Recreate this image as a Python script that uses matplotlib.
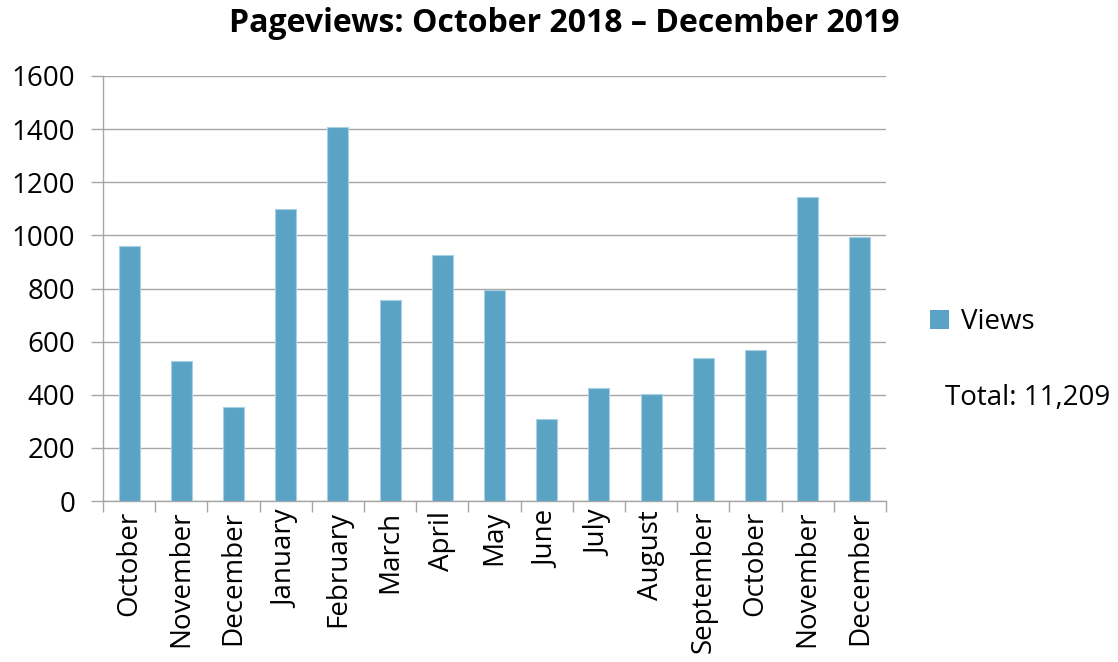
import matplotlib
matplotlib.use("Agg")
import matplotlib.pyplot as plt
from matplotlib.patches import Patch

months = ["October", "November", "December", "January", "February", "March",
          "April", "May", "June", "July", "August", "September", "October",
          "November", "December"]
views = [960, 527, 353, 1098, 1408, 757, 928, 793, 307, 425, 402, 540, 569, 1145, 993]
series_name = "Views"
title = "Pageviews: October 2018 \u2013 December 2019"
total_text = "Total: 11,209"
yticks = [0, 200, 400, 600, 800, 1000, 1200, 1400, 1600]

plt.rcParams['font.family'] = ['Open Sans', 'DejaVu Sans']

fig = plt.figure(figsize=(11.18, 6.62), dpi=100)
W, H = 1118, 662
left, right, top, bottom = 103, 886, 76, 501
ax = fig.add_axes([left / W, 1 - bottom / H, (right - left) / W, (bottom - top) / H])

bar_color = "#5BA3C4"
x = list(range(len(months)))
ax.bar(x, views, width=0.4, color=bar_color, edgecolor="#A9D0E2", linewidth=0.8, zorder=3)

ax.set_xlim(-0.5, len(months) - 0.5)
ax.set_ylim(0, 1600)
ax.set_yticks(yticks)
ax.set_yticklabels([str(v) for v in yticks], fontsize=20)
ax.yaxis.grid(True, color="#A6A6A6", linewidth=1.0, zorder=0)
ax.set_axisbelow(True)

ax.set_xticks([i for i in x])
ax.set_xticklabels(months, rotation=90, fontsize=20)
ax.tick_params(axis='x', length=0, pad=7)
# boundary ticks
ax.set_xticks([i - 0.5 for i in range(len(months) + 1)], minor=True)
ax.tick_params(axis='x', which='minor', length=8, color="#A6A6A6", width=1.0, direction='out')
ax.tick_params(axis='y', length=9, color="#A6A6A6", width=1.0, pad=11)

for s in ["top", "right"]:
    ax.spines[s].set_visible(False)
for s in ["left", "bottom"]:
    ax.spines[s].set_color("#A6A6A6")
    ax.spines[s].set_linewidth(1.0)

fig.text(0.5 * (228 + 900) / W, 1 - 24 / H, title, ha="center", va="center",
         fontsize=23, fontweight="bold")

fig.legend(handles=[Patch(facecolor=bar_color, edgecolor="none", label=series_name)],
           loc="center left", bbox_to_anchor=(905 / W, 1 - 322 / H), frameon=False,
           fontsize=20, handlelength=0.7, handleheight=0.7, handletextpad=0.4)
fig.text(945 / W, 1 - 398 / H, total_text, ha="left", va="center", fontsize=20)

fig.savefig("out.png", dpi=100)
